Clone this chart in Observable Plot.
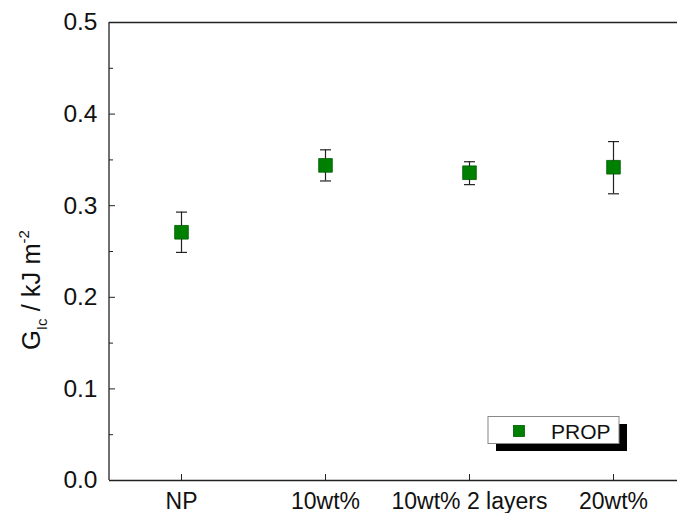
<!DOCTYPE html>
<html>
<head>
<meta charset="utf-8">
<script src="https://cdn.jsdelivr.net/npm/d3@7"></script>
<script src="https://cdn.jsdelivr.net/npm/@observablehq/plot@0.6"></script>
<style>
  html, body { margin: 0; padding: 0; background: #fff; }
  #chart svg { display: block; }
</style>
</head>
<body>
<div id="chart"></div>
<script>
// Data
const categories = ["NP", "10wt%", "10wt% 2 layers", "20wt%"];
const means = [0.271, 0.344, 0.336, 0.342];
const lower = [0.249, 0.327, 0.323, 0.313];
const upper = [0.293, 0.361, 0.348, 0.370];
const yMajorTicks = [0, 0.1, 0.2, 0.3, 0.4, 0.5];
const yMinorTicks = [0.05, 0.15, 0.25, 0.35, 0.45];
const seriesName = "PROP";

const data = categories.map((c, i) => ({cat: c, y: means[i], lo: lower[i], hi: upper[i]}));

const W = 677, H = 513;
const font = "'Liberation Sans', Arial, sans-serif";

// horizontal cap symbol for error bars
const capSymbol = {
  draw(ctx, size) {
    const w = 5.5;
    ctx.moveTo(-w, 0);
    ctx.lineTo(w, 0);
  }
};

const chart = Plot.plot({
  width: W,
  height: H,
  marginLeft: 109,
  marginRight: 0,
  marginTop: 22,
  marginBottom: 33,
  style: {fontFamily: font, background: "#fff", color: "#111"},
  x: {type: "point", domain: categories, padding: 0.5, range: [109, 685]},
  y: {domain: [0, 0.5]},
  marks: [
    Plot.ruleY([0, 0.5], {stroke: "#222", strokeWidth: 1.3}),
    Plot.axisY({ticks: yMajorTicks, tickSize: -6, text: null, label: null, stroke: "#222"}),
    Plot.axisY({ticks: yMinorTicks, tickSize: -4, text: null, label: null, stroke: "#222"}),
    Plot.axisY({ticks: yMajorTicks, tickSize: 0, tickPadding: 12, tickFormat: d3.format(".1f"), label: null, fontSize: 24.5, fill: "#111"}),
    Plot.axisX({ticks: categories, tickSize: -6, text: null, label: null, stroke: "#222"}),
    Plot.axisX({ticks: categories, tickSize: 0, tickPadding: 12, label: null, fontSize: 23, fill: "#111"}),
    Plot.ruleX(data, {x: "cat", y1: "lo", y2: "hi", stroke: "#222", strokeWidth: 1.2}),
    Plot.dot(data, {x: "cat", y: "lo", symbol: capSymbol, r: 5, fill: "none", stroke: "#222", strokeWidth: 1.2}),
    Plot.dot(data, {x: "cat", y: "hi", symbol: capSymbol, r: 5, fill: "none", stroke: "#222", strokeWidth: 1.2}),
    Plot.dot(data, {x: "cat", y: "y", symbol: "square", r: 7.7, fill: "#008000", stroke: "#005a00", strokeWidth: 0.8})
  ]
});

document.getElementById("chart").appendChild(chart);

const svg = d3.select(chart);
// left axis line
svg.append("line").attr("x1", 109).attr("x2", 109).attr("y1", 22).attr("y2", 480)
  .attr("stroke", "#222").attr("stroke-width", 1.3);

// y-axis title with subscript/superscript
const yt = svg.append("text")
  .attr("transform", "translate(40,290) rotate(-90)")
  .attr("text-anchor", "middle")
  .attr("font-family", font)
  .attr("font-size", 25.5)
  .attr("fill", "#111");
yt.append("tspan").text("G");
yt.append("tspan").attr("font-size", 15).attr("dy", 7).text("Ic");
yt.append("tspan").attr("dy", -7).text(" / kJ m");
yt.append("tspan").attr("font-size", 15).attr("dy", -11).text("-2");

// legend
const lg = svg.append("g");
lg.append("rect").attr("x", 496).attr("y", 424).attr("width", 131).attr("height", 27).attr("fill", "#000");
lg.append("rect").attr("x", 488).attr("y", 416.5).attr("width", 131).attr("height", 27)
  .attr("fill", "#fff").attr("stroke", "#888").attr("stroke-width", 1);
lg.append("rect").attr("x", 513.5).attr("y", 425.5).attr("width", 11).attr("height", 11)
  .attr("fill", "#008000").attr("stroke", "#005a00").attr("stroke-width", 0.8);
lg.append("text").attr("x", 551).attr("y", 438.5).attr("text-anchor", "start")
  .attr("font-family", font).attr("font-size", 21)
  .attr("fill", "#111").text(seriesName);
</script>
</body>
</html>
